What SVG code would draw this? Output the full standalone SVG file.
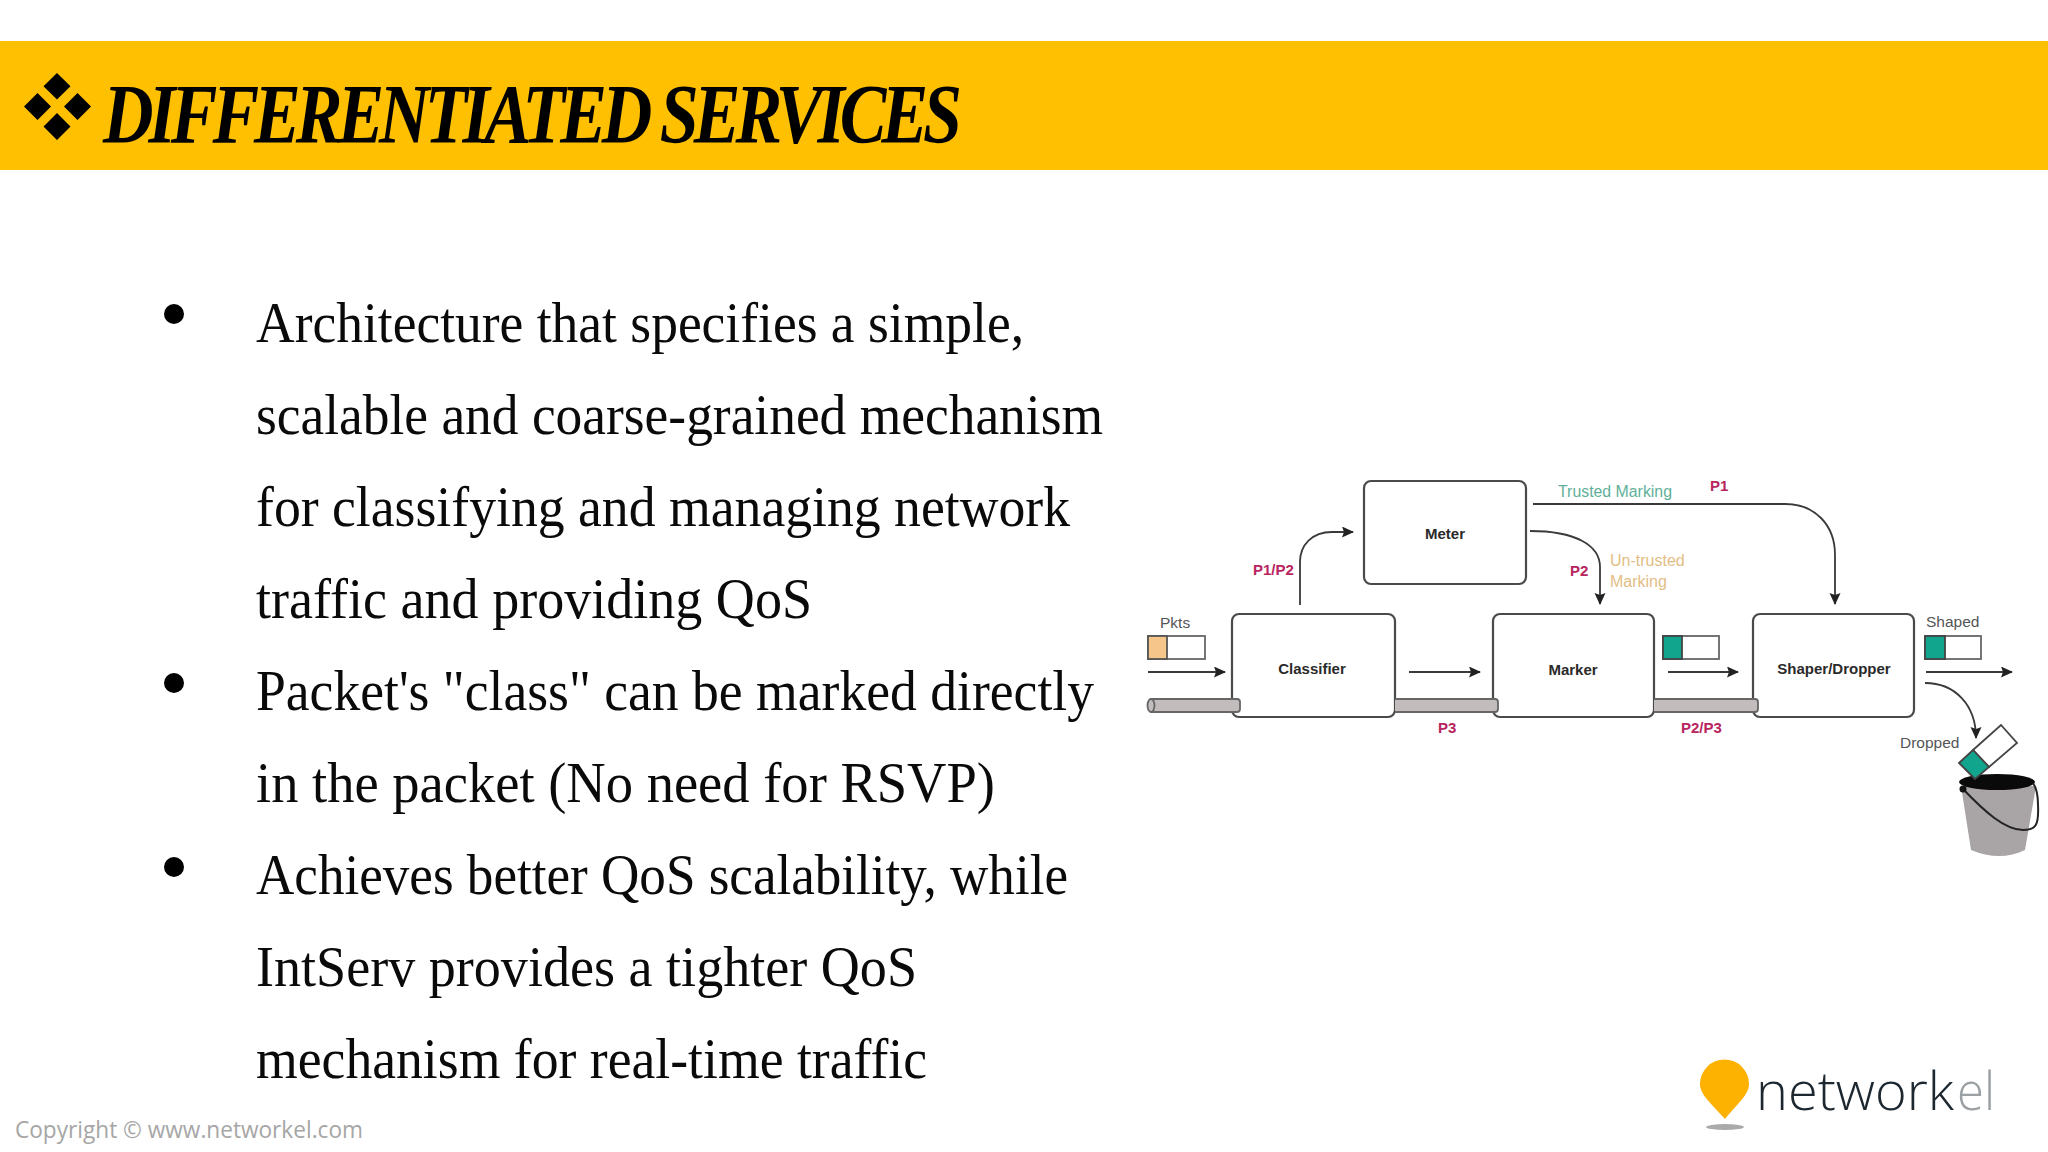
<svg xmlns="http://www.w3.org/2000/svg" width="2048" height="1152" viewBox="0 0 2048 1152">
<style>
text{font-family:"Liberation Sans",Arial,sans-serif}
.body{font-family:"Liberation Serif","Times New Roman",serif;font-size:56px;fill:#0a0a0a}
.lbl{font-size:15.5px;fill:#555}
.nm{font-size:15px;font-weight:bold;fill:#2a2a2a;text-anchor:middle}
.p{font-size:15px;font-weight:bold;fill:#b8245e}
.box{fill:#fff;stroke:#4a4a4a;stroke-width:2.2}
.ln{fill:none;stroke:#3a3a3a;stroke-width:1.8}
.pipe{fill:#c2bcbc;stroke:#666;stroke-width:1.8}
.pk{fill:#fff;stroke:#666;stroke-width:1.8}
.teal{fill:#12a58d;stroke:#444;stroke-width:1.8}
.logo{font-family:"Open Sans",sans-serif;font-size:53px;font-weight:300}
</style>
<defs>
<marker id="a" markerWidth="13" markerHeight="12" refX="11" refY="5.500" orient="auto" markerUnits="userSpaceOnUse"><path d="M0 0L12 5.500L0 11L2 5.500Z" fill="#222"/></marker>
</defs>
<rect width="2048" height="1152" fill="#fff"/>
<g id="banner">
<rect y="41" width="2048" height="129" fill="#fec000"/>
<path d="M57 73l13.500 13.300-13.500 13.300-13.500-13.300Z M37.500 93l13.500 13.500-13.500 13.500-13.500-13.500Z M77.500 93l13.500 13.500-13.500 13.500-13.500-13.500Z M57 113l13.500 13.500-13.500 13.500-13.500-13.500Z" fill="#000"/>
<text x="103" y="143" font-size="84" font-weight="bold" font-style="italic" letter-spacing="-6" style="font-family:'Liberation Serif',serif" textLength="854" lengthAdjust="spacingAndGlyphs" fill="#000">DIFFERENTIATED SERVICES</text>
</g>
<g id="bullets" fill="#000">
<circle cx="174" cy="314" r="10"/><circle cx="174" cy="683" r="10"/><circle cx="174" cy="867" r="10"/>
</g>
<g id="body">
<text class="body" x="256" y="342" textLength="768" lengthAdjust="spacingAndGlyphs">Architecture that specifies a simple,</text>
<text class="body" x="256" y="434" textLength="847" lengthAdjust="spacingAndGlyphs">scalable and coarse-grained mechanism</text>
<text class="body" x="256" y="526" textLength="814" lengthAdjust="spacingAndGlyphs">for classifying and managing network</text>
<text class="body" x="256" y="618" textLength="556" lengthAdjust="spacingAndGlyphs">traffic and providing QoS</text>
<text class="body" x="256" y="710" textLength="838" lengthAdjust="spacingAndGlyphs">Packet's "class" can be marked directly</text>
<text class="body" x="256" y="802" textLength="739" lengthAdjust="spacingAndGlyphs">in the packet (No need for RSVP)</text>
<text class="body" x="256" y="894" textLength="812" lengthAdjust="spacingAndGlyphs">Achieves better QoS scalability, while</text>
<text class="body" x="256" y="986" textLength="661" lengthAdjust="spacingAndGlyphs">IntServ provides a tighter QoS</text>
<text class="body" x="256" y="1078" textLength="671" lengthAdjust="spacingAndGlyphs">mechanism for real-time traffic</text>
</g>
<text id="copyright" x="15" y="1138" font-size="23" style="font-family:'Open Sans',sans-serif" fill="#a6a6a6" textLength="348" lengthAdjust="spacingAndGlyphs">Copyright © www.networkel.com</text>
<g id="classifier"><rect class="box" x="1232" y="614" width="163" height="103" rx="7"/><text class="nm" x="1312" y="674">Classifier</text></g>
<g id="meter"><rect class="box" x="1364" y="481" width="162" height="103" rx="7"/><text class="nm" x="1445" y="539">Meter</text></g>
<g id="marker"><rect class="box" x="1493" y="614" width="161" height="103" rx="7"/><text class="nm" x="1573" y="675">Marker</text></g>
<g id="shaper"><rect class="box" x="1753" y="614" width="161" height="103" rx="7"/><text class="nm" x="1834" y="674">Shaper/Dropper</text></g>
<g id="pipes">
<path class="pipe" d="M1151 699H1237Q1240 699 1240 702V709Q1240 712 1237 712H1151Z"/><ellipse cx="1151" cy="705.500" rx="3.500" ry="6.500" class="pipe"/>
<path class="pipe" d="M1395 699H1495Q1498 699 1498 702V709Q1498 712 1495 712H1395"/>
<path class="pipe" d="M1654 699H1755Q1758 699 1758 702V709Q1758 712 1755 712H1654"/>
</g>
<g id="connectors">
<path class="ln" marker-end="url(#a)" d="M1148 672H1225"/>
<path class="ln" marker-end="url(#a)" d="M1409 672H1480"/>
<path class="ln" marker-end="url(#a)" d="M1668 672H1738"/>
<path class="ln" marker-end="url(#a)" d="M1926 672H2012"/>
<path class="ln" marker-end="url(#a)" d="M1300 605V562C1300 545 1312 532 1332 532H1353"/>
<path class="ln" marker-end="url(#a)" d="M1533 504H1785C1815 504 1835 525 1835 555V604"/>
<path class="ln" marker-end="url(#a)" d="M1530 531C1575 531 1600 545 1600 567V604"/>
<path class="ln" marker-end="url(#a)" d="M1925 683C1955 683 1976 705 1976 738"/>
</g>
<g id="packets">
<rect class="pk" x="1148" y="636" width="57" height="23"/><rect x="1148" y="636" width="19" height="23" fill="#f5c58a" stroke="#555" stroke-width="1.8"/>
<rect class="pk" x="1663" y="636" width="56" height="23"/><rect class="teal" x="1663" y="636" width="19" height="23"/>
<rect class="pk" x="1925" y="636" width="56" height="23"/><rect class="teal" x="1925" y="636" width="20" height="23"/>
</g>
<g id="labels">
<text class="lbl" x="1160" y="628">Pkts</text>
<text class="lbl" x="1926" y="627">Shaped</text>
<text class="lbl" x="1900" y="748">Dropped</text>
<text x="1558" y="497" font-size="16" fill="#5fb09a" textLength="114" lengthAdjust="spacingAndGlyphs">Trusted Marking</text>
<text x="1610" y="566" font-size="16" fill="#e3bd85">Un-trusted</text>
<text x="1610" y="587" font-size="16" fill="#e3bd85">Marking</text>
<text class="p" x="1253" y="575">P1/P2</text>
<text class="p" x="1710" y="491">P1</text>
<text class="p" x="1570" y="576">P2</text>
<text class="p" x="1438" y="733">P3</text>
<text class="p" x="1681" y="733">P2/P3</text>
</g>
<g id="bucket">
<path d="M1961 786H2036L2025 850Q2000 862 1971 850Z" fill="#a9a4a6"/>
<ellipse cx="1997" cy="782" rx="38" ry="8" fill="#0a0a0a"/>
<path d="M1962 788C1985 812 2005 830 2023 830C2036 830 2039 825 2038 805Q2038 790 2033 783" fill="none" stroke="#222" stroke-width="2"/>
<circle cx="1963" cy="789" r="3.500" fill="#111"/>
<path d="M1973 750L2001 725L2017 743L1989 767Z" fill="#fff" stroke="#444" stroke-width="1.8"/>
<path class="teal" d="M1959 763L1973 750L1989 767L1975 779Z"/>
</g>
<g id="logo">
<path d="M1725 1119C1712 1104 1700 1095 1700 1084A24.500 24.500 0 0 1 1749 1084C1749 1095 1737 1104 1725 1119Z" fill="#fdb100"/>
<ellipse cx="1725" cy="1127" rx="19" ry="3" fill="#aaa"/>
<text class="logo" x="1756" y="1110" fill="#1d2730" textLength="198" lengthAdjust="spacingAndGlyphs">network</text>
<text class="logo" x="1957" y="1110" fill="#9aa0a3" textLength="38" lengthAdjust="spacingAndGlyphs">el</text>
</g>
</svg>
